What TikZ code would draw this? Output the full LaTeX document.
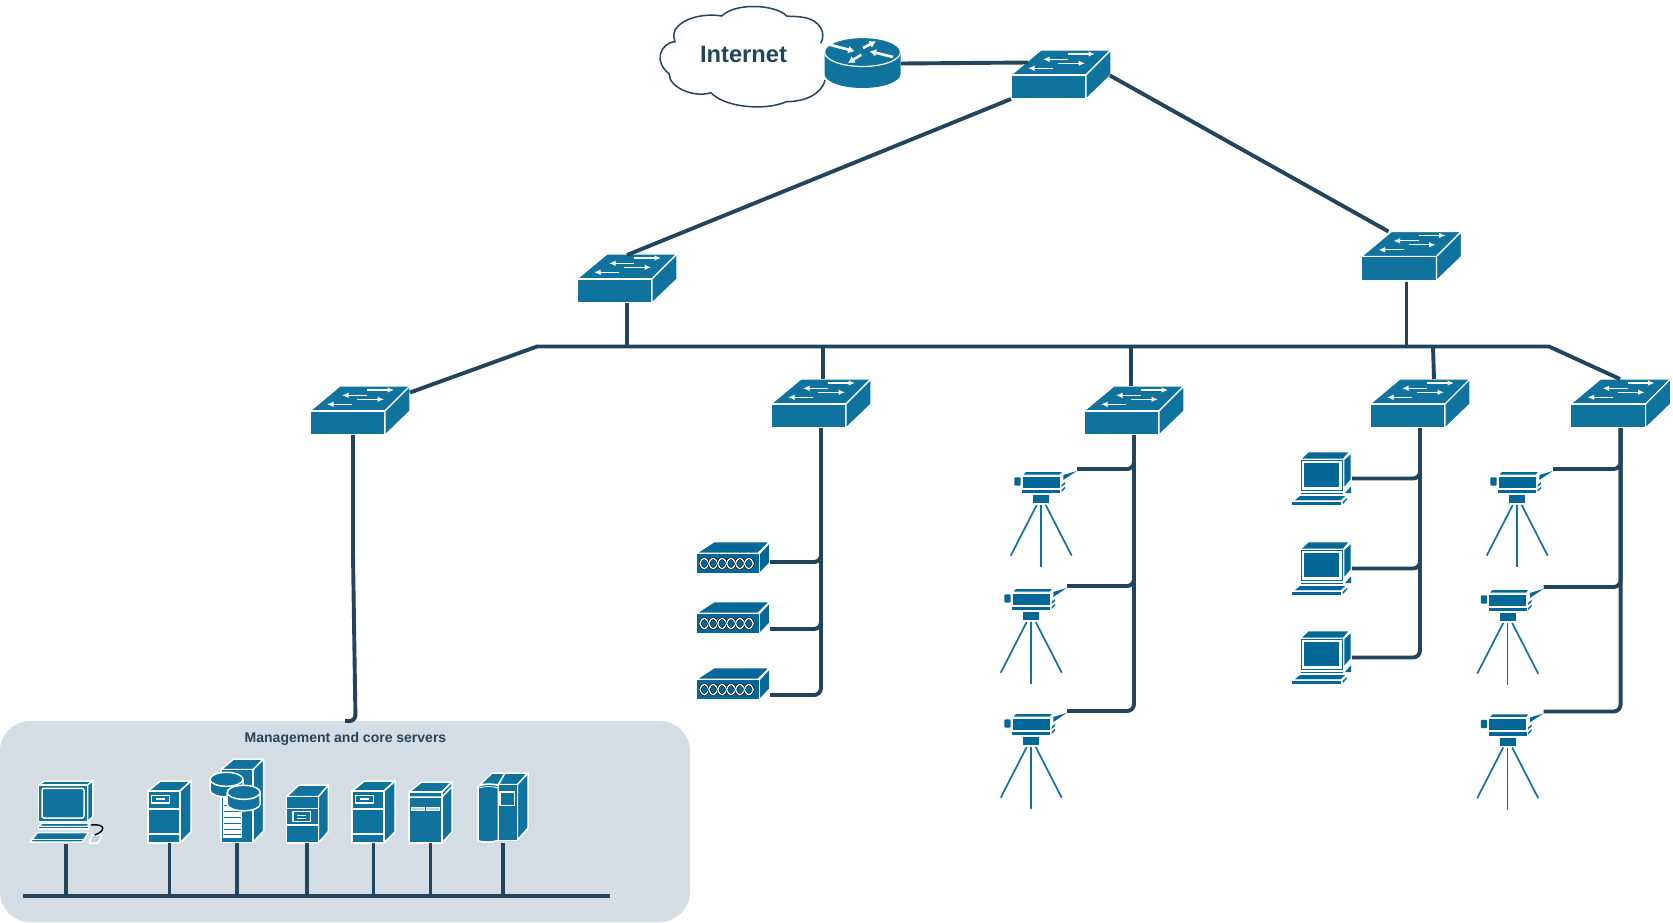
\documentclass[tikz,border=0pt]{standalone}
\usepackage{fontspec}
\setmainfont{Liberation Sans}
\usetikzlibrary{arrows.meta}
\definecolor{wirec}{HTML}{23445D}
\definecolor{swc}{HTML}{10739E}
\definecolor{devc}{HTML}{036897}
\definecolor{panelc}{HTML}{D5DDE4}
\tikzset{
  wire/.style={draw=wirec,line width=3.9pt},
  box/.style={inner sep=0pt,outer sep=0pt,anchor=north west},
  dv/.style={fill=swc,draw=white,line width=1.1pt,line join=round},
  sv/.style={fill=swc,draw=white,line width=1.5pt,line join=round},
  dd/.style={fill=devc,draw=white,line width=0.9pt,line join=round},
  wl/.style={draw=white,line width=1.5pt},
  wf/.style={fill=white,draw=none},
  swarrow/.style={draw=white,line width=1.2pt,-{Latex[length=6.5pt,width=5.5pt]}},
  rarrow/.style={draw=white,line width=2.6pt,-{Latex[length=6.5pt,width=8pt]}},
  swpic/.pic={
    \path[dv] (0,25) -- (30,0) -- (100,0) -- (75,25) -- cycle;
    \path[dv] (0,25) rectangle (75,49);
    \path[dv] (75,25) -- (100,0) -- (100,25) -- (75,49) -- cycle;
    \draw[swarrow] (57,4) -- (84,4);
    \draw[swarrow] (57,9.3) -- (32,9.3);
    \draw[swarrow] (47,13.3) -- (74,13.3);
    \draw[swarrow] (42,18.3) -- (17,18.3);
  },
  routerpic/.pic={
    \path[fill=swc] (0.5,15) -- (0.5,37) arc[start angle=180,end angle=0,x radius=38,y radius=14] -- (76.5,15) -- cycle;
    \path[fill=swc,draw=white,line width=1.2pt] (38.5,15) ellipse[x radius=38,y radius=14.5];
    \draw[rarrow] (5.7,7.7) -- (30.7,14.3);
    \draw[rarrow] (39,11) -- (52,4.3);
    \draw[rarrow] (69,20) -- (45.7,14.3);
    \draw[rarrow] (37.3,17.7) -- (24,26);
  },
  laptoppic/.pic={
    \path[dd] (8.7,7) -- (16.3,0) -- (57.3,0) -- (51.3,7) -- cycle;
    \path[dd] (52,7.7) -- (59,1) -- (59,27.7) -- (52,36) -- cycle;
    \path[dd] (8.7,7.7) rectangle (51.3,39.3);
    \path[fill=white] (10.4,9.2) rectangle (49.7,37.6);
    \path[fill=devc] (12,11) rectangle (47.3,35);
    \path[fill=devc] (53,41) -- (59,34.3) -- (59,41) -- cycle;
    \path[fill=devc] (8.7,40.6) rectangle (51.3,42);
    \path[dd] (1.3,48.7) -- (8,43.3) -- (54.7,43.3) -- (49,48.7) -- cycle;
    \path[fill=devc] (0,49.7) rectangle (49.3,52.7);
    \path[fill=devc] (50.5,50) -- (55,46) -- (55,47.5) -- (51,52) -- cycle;
  },
  hubpic/.pic={
    \path[dd] (1,11) -- (18,0) -- (73,0) -- (62,11) -- cycle;
    \path[dd] (0.7,11.7) rectangle (63,31.3);
    \path[dd] (63.5,11.7) -- (73.5,1) -- (73.5,21) -- (63.5,31.3) -- cycle;
    \foreach \i in {0,...,5}{
      \pgfmathsetmacro{\cx}{8.3+8.9*\i}
      \draw[black,line width=2.4pt] (\cx-4.4,21.5) .. controls (\cx-1.8,14.5) and (\cx+1.8,14.5) .. (\cx+4.4,21.5) .. controls (\cx+1.8,28.5) and (\cx-1.8,28.5) .. (\cx-4.4,21.5);
      \draw[white,line width=1.3pt] (\cx-4.4,21.5) .. controls (\cx-1.8,14.5) and (\cx+1.8,14.5) .. (\cx+4.4,21.5) .. controls (\cx+1.8,28.5) and (\cx-1.8,28.5) .. (\cx-4.4,21.5);
    }
  },
  campic/.pic={
    \path[dd] (-15.3,-27.5) -- (22,-27.5) -- (19,-24) -- (-18.7,-24) -- cycle;
    \path[dd] (-18.7,-23) rectangle (19,-10.7);
    \path[fill=devc] (-18.7,-9.3) rectangle (19,-5.7);
    \path[fill=devc,rounded corners=1pt] (-26.7,-21.7) rectangle (-20.3,-13.3);
    \path[fill=devc] (22.3,-24) -- (35.7,-28) -- (22.3,-19) -- cycle;
    \path[fill=devc] (20.5,-14) -- (24,-17) -- (24,-15) -- (20.5,-12) -- cycle;
    \path[fill=devc] (20.5,-9) -- (24,-12.5) -- (24,-10.5) -- (20.5,-7) -- cycle;
    \path[fill=devc] (-7.7,-4) rectangle (8,4.3);
    \draw[swc,line width=1.7pt] (-4.3,6) -- (-30.3,56.7);
    \draw[swc,line width=1.7pt] (0,6) -- (0,68.3);
    \draw[swc,line width=1.7pt] (4.7,6) -- (30.7,56.7);
  },
  srvapic/.pic={
    \path[sv] (0,10) -- (12.5,0) -- (43,0) -- (32,10) -- cycle;
    \path[sv] (32,10) -- (43,0) -- (43,51) -- (32,62) -- cycle;
    \path[sv] (0,10) rectangle (32,62);
    \draw[wl] (0,28) -- (32,28);
    \draw[wl] (0,53) -- (32,53);
    \path[sv] (3.5,14.5) rectangle (21.5,22);
    \path[wf] (8,17.3) rectangle (17,19.3);
  },
  srvbpic/.pic={
    \path[sv] (0,11.7) -- (12.5,0) -- (42,0) -- (32,11.7) -- cycle;
    \path[sv] (32,11.7) -- (42,0) -- (42,46.5) -- (32,58) -- cycle;
    \path[sv] (0,11.7) rectangle (32,58);
    \draw[wl] (0,23.3) -- (32,23.3);
    \draw[wl] (0,40) -- (32,40);
    \path[sv] (6.4,26.7) rectangle (24.3,36.7);
    \path[wf] (11,29.5) rectangle (20,31);
    \path[wf] (11,32.5) rectangle (20,34);
  },
  srvcpic/.pic={
    \path[sv] (0,10) -- (12.5,0) -- (43,0) -- (33,10) -- cycle;
    \path[sv] (33,10) -- (43,0) -- (43,50) -- (33,61) -- cycle;
    \path[sv] (0,10) rectangle (33,61);
    \draw[wl] (0,15) -- (33,15) -- (43,4.5);
    \path[sv,fill=white!70!swc,line width=0.5pt] (2,25.2) rectangle (15,28.2);
    \path[sv,fill=white!70!swc,line width=0.5pt] (17,25.2) rectangle (30,28.2);
  },
  srvdpic/.pic={
    \path[sv] (2,11.7) -- (14,0) -- (27,0) -- (20.4,11.7) -- cycle;
    \path[sv] (20.4,11.7) -- (27,0) -- (50,0) -- (39.3,11.7) -- cycle;
    \path[sv] (39.3,11.7) -- (50,0) -- (50,55) -- (39.3,67.3) -- cycle;
    \path[sv] (0,13) .. controls (7,10.5) and (14,10.5) .. (20.4,12.5) -- (20.4,67.3) .. controls (14,69.5) and (7,69.5) .. (0,68) -- cycle;
    \path[sv] (20.4,11.7) rectangle (39.3,67.3);
    \draw[wl,line width=0.8pt] (0.5,15) .. controls (7,13) and (14,13) .. (20,15);
    \path[sv] (22,19) rectangle (36.4,32.7);
  },
  srvdbpic/.pic={
    \path[sv] (0,10.7) -- (12.5,0) -- (42.5,0) -- (32,10.7) -- cycle;
    \path[sv] (32,10.7) -- (42.5,0) -- (42.5,72) -- (32,83.3) -- cycle;
    \path[sv] (0,10.7) rectangle (32,83.3);
    \path[wf] (2,38) rectangle (21,79);
    \foreach \yy in {46,52,58,64,70,75}{\draw[swc,line width=0.8pt] (3,\yy) -- (20,\yy);}
    \path[sv] (-11,20.3) -- (-11,31) arc[start angle=180,end angle=0,x radius=16.5,y radius=7] -- (22,20.3) -- cycle;
    \path[sv] (5.5,20.3) ellipse[x radius=16.5,y radius=7];
    \path[sv] (6.2,33.3) -- (6.2,45) arc[start angle=180,end angle=0,x radius=16.5,y radius=6.8] -- (39.2,33.3) -- cycle;
    \path[sv] (22.7,33.3) ellipse[x radius=16.5,y radius=7];
  },
  pcpic/.pic={
    \path[sv] (8.6,5) -- (14.6,1) -- (62.9,1) -- (57.5,5) -- cycle;
    \path[sv] (57.5,5) -- (62.9,1) -- (62.9,36.7) -- (57.5,41.7) -- cycle;
    \path[sv] (8.6,5) rectangle (57.5,41.7);
    \path[sv,rounded corners=2pt] (12,8.3) rectangle (54,38);
    \path[sv] (12,43) -- (60,43) -- (57,46.5) -- (9,46.5) -- cycle;
    \path[sv] (8.6,46.5) rectangle (58.5,49);
    \path[sv] (0,62) -- (7.5,52.5) -- (58.5,52.5) -- (52.5,62) -- cycle;
    \draw[wl] (0.5,59.5) -- (53,59.5);
    \path[sv,fill=white!70!swc] (59.5,63) -- (62,55) -- (72,55) -- (68,63) -- cycle;
    \draw[black,line width=1.4pt] (61,45) .. controls (77,43.3) and (75,51.7) .. (64.6,55);
  },
}
\newcommand{\dev}[6]{%
  \node[box,minimum width=#5pt,minimum height=#6pt] (#2) at (#3,#4) {};
  \pic at (#3,#4) {#1};}
\newcommand{\camdev}[3]{%
  \node[box,minimum width=64pt,minimum height=99pt,shift={(-28,-30)}] (#1) at (#2,#3) {};
  \pic at (#2,#3) {campic};}
\begin{document}
\begin{tikzpicture}[x=1pt,y=-1pt]
\useasboundingbox[fill=white] (0,0) rectangle (1673,922);

% panel
\node[box,fill=panelc,rounded corners=30pt,minimum width=690pt,minimum height=201pt] (panel) at (0,721) {};
\node[text=wirec,font=\bfseries\fontsize{14}{16}\selectfont,inner sep=0pt] (ptitle) at (345.5,739) {Management and core servers};

% cloud
\begin{scope}[shift={(640,0)},x=0.33333pt,y=-0.33333pt]
\draw[draw=wirec,line width=1.5pt,fill=white] (542,130)
 .. controls (560,100) and (540,60) .. (490,52)
 .. controls (470,48) and (450,50) .. (440,48)
 .. controls (410,15) and (290,5) .. (245,48)
 .. controls (200,40) and (130,50) .. (105,90)
 .. controls (100,105) and (100,115) .. (105,125)
 .. controls (60,130) and (40,185) .. (88,222)
 .. controls (85,260) and (160,295) .. (213,278)
 .. controls (250,320) and (370,335) .. (440,305)
 .. controls (490,305) and (545,285) .. (555,240);
\end{scope}
\node[text=wirec,font=\bfseries\fontsize{23.7}{26}\selectfont,inner sep=0pt] (inet) at (743.5,54) {Internet};

% devices
\dev{routerpic}{router}{824}{37}{77}{51}
\dev{swpic}{s0}{1011}{50}{100}{49}
\dev{swpic}{sL}{577}{254}{100}{49}
\dev{swpic}{sR}{1361.5}{231.5}{100}{50}
\dev{swpic}{sA}{310}{386}{100}{49}
\dev{swpic}{sB}{771}{379}{100}{49}
\dev{swpic}{sC}{1084}{386}{100}{49}
\dev{swpic}{sD}{1370}{379}{100}{49}
\dev{swpic}{sE}{1570.6}{379}{100}{49}

\dev{hubpic}{hA}{696}{542}{74}{40}
\dev{hubpic}{hB}{696}{602}{74}{40}
\dev{hubpic}{hC}{696}{668}{74}{40}

\camdev{cA}{1041}{499}
\camdev{cB}{1031}{616}
\camdev{cC}{1031}{741}
\camdev{cD}{1517}{499}
\camdev{cE}{1507.5}{617}
\camdev{cF}{1507.5}{741.5}

\dev{laptoppic}{lA}{1292}{452}{60}{53}
\dev{laptoppic}{lB}{1292}{542}{60}{53}
\dev{laptoppic}{lC}{1292}{631}{60}{53}

\dev{pcpic}{pc}{30}{780}{72}{64}
\dev{srvapic}{m1}{148}{781}{43}{62}
\dev{srvdbpic}{m2}{221}{759}{32}{84}
\dev{srvbpic}{m3}{286.4}{785}{42}{58}
\dev{srvapic}{m4}{352}{781}{43}{62}
\dev{srvcpic}{m5}{409}{782}{43}{61}
\dev{srvdpic}{m6}{478}{773}{50}{70}

% named bus points
\coordinate (busW) at (537,346.5);
\coordinate (busE) at (1549,346.5);
\coordinate (aMid) at (353,555);
\coordinate (aLow) at (355.5,721);
\coordinate (mL) at (23,896);
\coordinate (mR) at (610,896);

% connectors
\draw[wire] ([yshift=-1pt]router.east) -- ([xshift=17pt,yshift=12pt]s0.west);
\draw[wire] (s0.south west) -- ([yshift=-1pt]sL.north);
\draw[wire] ([yshift=-1pt,xshift=49pt]s0.center) -- ([xshift=-23pt]sR.north);
\draw[wire] (sL.south) -- (sL.south |- busW);
\draw[wire] ([xshift=-5pt]sR.south) -- ([xshift=-5pt]sR.south |- busW);
\draw[wire] ([yshift=18pt]sA.east) -- (busW) -- (busE) -- ([xshift=-0.6pt,yshift=0pt]sE.north);
\draw[wire] ([xshift=2pt]sB.north |- busW) -- ([xshift=2pt]sB.north);
\draw[wire] ([xshift=-3pt]sC.north |- busW) -- ([xshift=-3pt]sC.north);
\draw[wire] ([xshift=13pt]sD.north |- busW) -- ([xshift=14pt]sD.north);
\draw[wire,rounded corners=6pt] ([xshift=-7pt]sA.south) -- (aMid) -- (aLow) -- (panel.north);

\draw[wire,rounded corners=7pt] (hA.east) -| (sB.south);
\draw[wire,rounded corners=7pt] ([yshift=-7pt]hB.east) -| (sB.south);
\draw[wire,rounded corners=7pt] ([yshift=-7pt]hC.east) -| (sB.south);

\draw[wire,rounded corners=7pt] (cA.north east) -| (sC.south);
\draw[wire,rounded corners=7pt] (cB.north east) -| (sC.south);
\draw[wire,rounded corners=7pt] (cC.north east) -| (sC.south);

\draw[wire,rounded corners=7pt] (lA.east) -| (sD.south);
\draw[wire,rounded corners=7pt] (lB.east) -| (sD.south);
\draw[wire,rounded corners=7pt] (lC.east) -| (sD.south);

\draw[wire,rounded corners=7pt] (cD.north east) -| (sE.south);
\draw[wire,rounded corners=7pt] (cE.north east) -| (sE.south);
\draw[wire,rounded corners=7pt] (cF.north east) -| (sE.south);

\draw[wire] (mL) -- (mR);
\foreach \m in {pc,m1,m2,m3,m4,m5,m6}{
  \draw[wire] (\m.south) -- (\m.south |- mL);
}
\end{tikzpicture}
\end{document}
